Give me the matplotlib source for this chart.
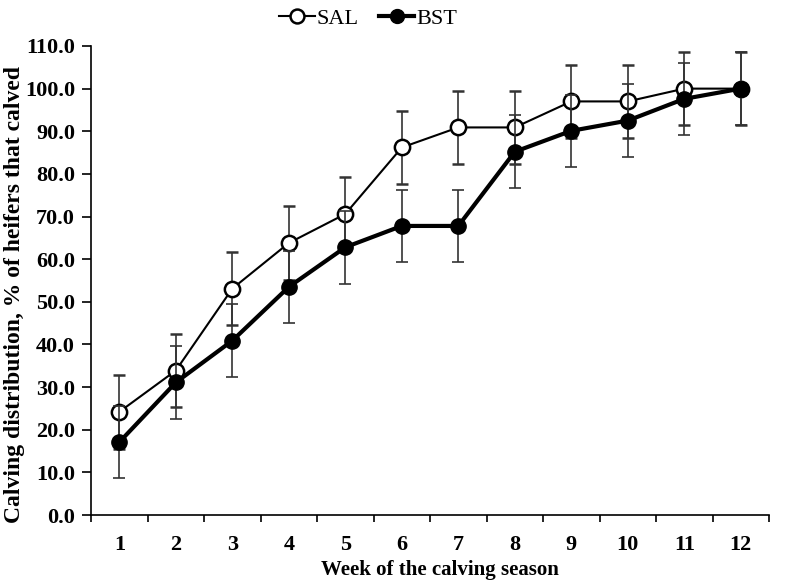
import numpy as np
import matplotlib.pyplot as plt
from matplotlib.lines import Line2D

plt.rcParams['font.family'] = 'Liberation Serif'

weeks = np.arange(1, 13)
sal = [24.2, 33.9, 53.1, 63.8, 70.6, 86.2, 90.9, 90.9, 97.0, 97.0, 100.0, 100.0]
bst = [17.1, 31.1, 40.9, 53.5, 62.8, 67.8, 67.8, 85.2, 90.1, 92.5, 97.6, 100.0]
sal_err = [8.6] * 12
bst_err = [8.5] * 12

fig = plt.figure(figsize=(7.92, 5.82), dpi=100)
ax = fig.add_axes([0.115, 0.115, 0.856, 0.806])

ax.errorbar(weeks, sal, yerr=sal_err, color='black', lw=1.5, marker='o', ms=11,
            mfc='white', mec='black', mew=1.8, ecolor='#333333', elinewidth=1.2,
            capsize=4, capthick=1.2, zorder=3)
ax.errorbar(weeks, bst, yerr=bst_err, color='black', lw=3, marker='o', ms=11,
            mfc='black', mec='black', ecolor='#333333', elinewidth=1.2,
            capsize=4, capthick=1.2, zorder=4)

ax.set_xlim(0.5, 12.5)
ax.set_ylim(0, 110)
ax.set_yticks(np.arange(0, 111, 10))
ax.set_yticklabels([f'{v:.1f}' for v in np.arange(0, 111, 10)])
ax.set_xticks(weeks)
ax.set_xticks(np.arange(0.5, 12.6, 1), minor=True)
ax.tick_params(axis='x', which='major', length=0, pad=14)
ax.tick_params(axis='x', which='minor', length=5, width=1.2)
ax.tick_params(axis='y', length=6.5, width=1.2, pad=5)
for lbl in ax.get_xticklabels() + ax.get_yticklabels():
    lbl.set_fontweight('bold')
    lbl.set_fontsize(16)

for s in ['top', 'right']:
    ax.spines[s].set_visible(False)
for s in ['left', 'bottom']:
    ax.spines[s].set_linewidth(1.2)

ax.set_xlabel('Week of the calving season', fontsize=15, fontweight='bold')
ax.xaxis.set_label_coords(0.515, -0.095)
ax.set_ylabel('Calving distribution, % of heifers that calved', fontsize=17,
              fontweight='bold')
ax.yaxis.set_label_coords(-0.098, 0.47)

handles = [
    Line2D([], [], color='black', lw=1.5, marker='o', ms=10, mfc='white', mec='black', mew=1.8),
    Line2D([], [], color='black', lw=3, marker='o', ms=10, mfc='black', mec='black'),
]
fig.legend(handles, ['SAL', 'BST'], loc='upper center', bbox_to_anchor=(0.465, 1.02),
           ncol=2, frameon=False, prop={'family': 'Liberation Serif', 'size': 16},
           handlelength=1.6, handletextpad=0.1, columnspacing=0.9)

fig.savefig('out.png', dpi=100)
